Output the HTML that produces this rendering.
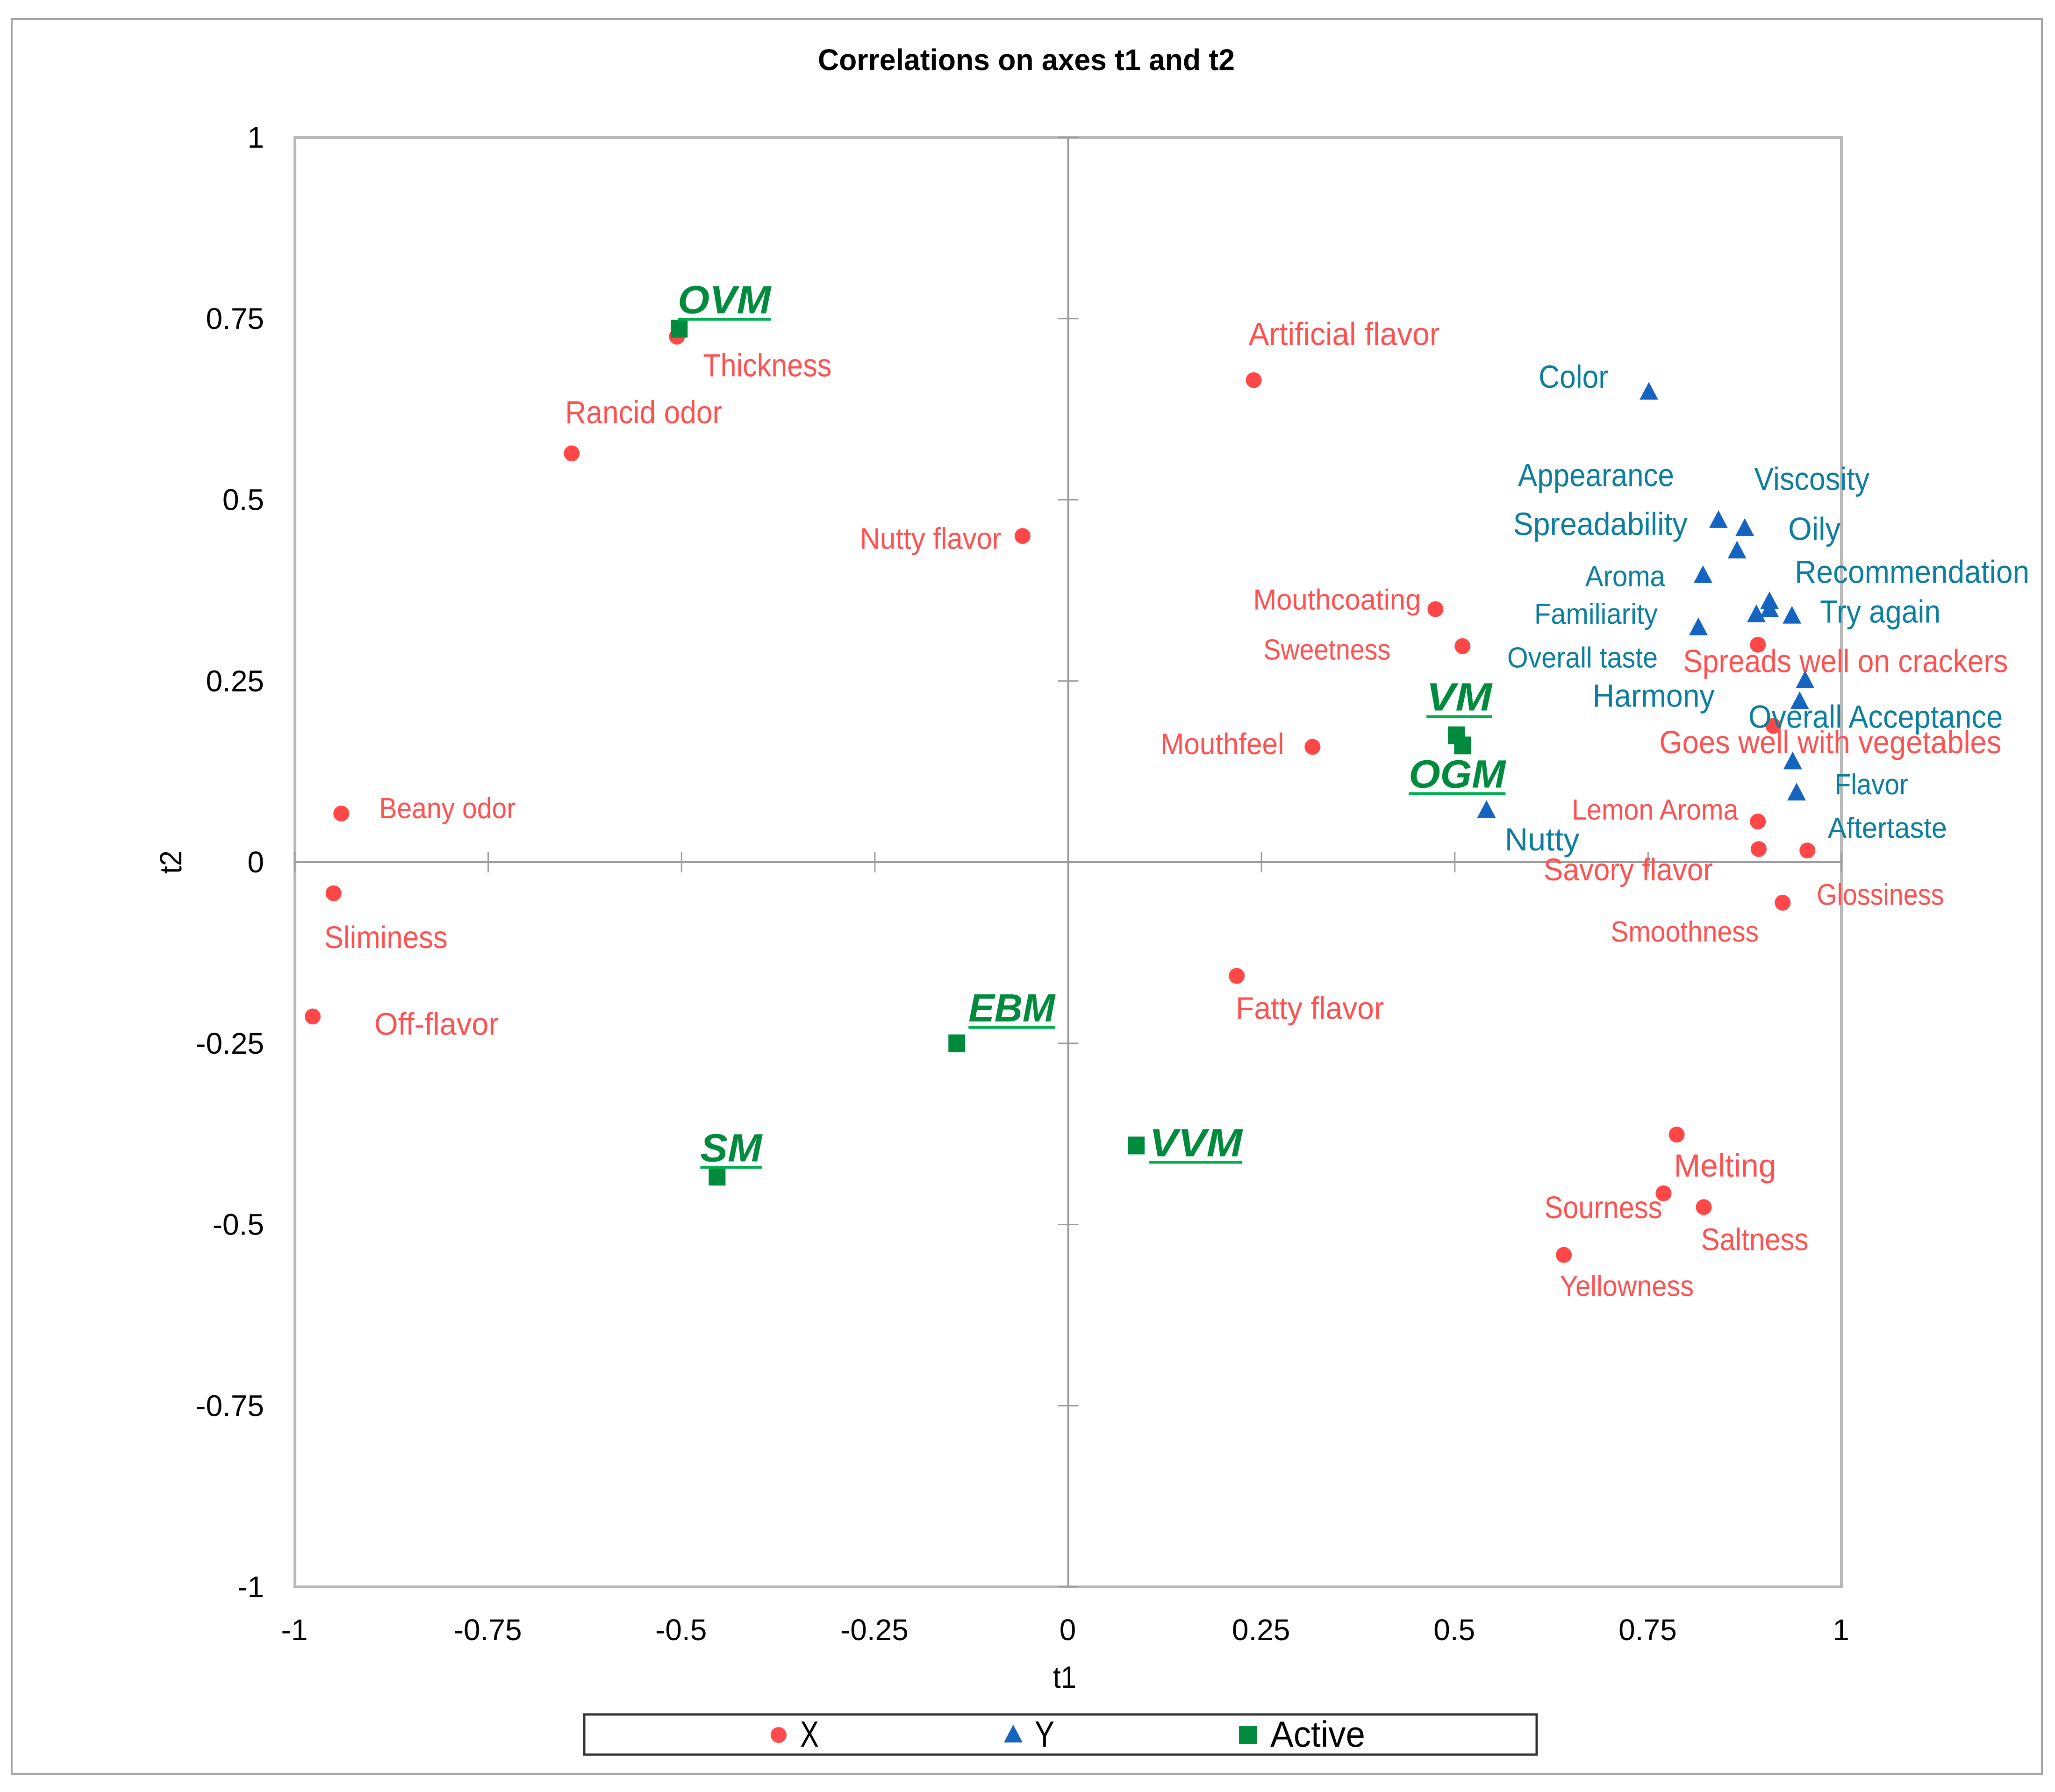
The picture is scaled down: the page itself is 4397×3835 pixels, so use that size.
<!DOCTYPE html>
<html lang="en">
<head>
<meta charset="utf-8">
<title>Correlations on axes t1 and t2</title>
<style>
  html, body { margin: 0; padding: 0; background: #fff; }
  svg { display: block; font-family: "Liberation Sans", sans-serif; }
</style>
</head>
<body>
<svg id="chart" xmlns="http://www.w3.org/2000/svg" width="4397" height="3835" viewBox="0 0 4397 3835">
  <rect x="0" y="0" width="4397" height="3835" fill="#ffffff"/>
  <rect x="25" y="41" width="4344" height="3755" fill="none" stroke="#a3a3a3" stroke-width="4"/>
  <text x="2196" y="150" text-anchor="middle" font-size="64" font-weight="bold" fill="#000" textLength="892" lengthAdjust="spacingAndGlyphs">Correlations on axes t1 and t2</text>
  <rect x="631" y="294" width="3309" height="3102" fill="none" stroke="#b8b8b8" stroke-width="6"/>
  <g id="axes"></g>
  <g id="marks"></g>
  <text x="2278" y="3612" text-anchor="middle" font-size="66" fill="#000" textLength="50" lengthAdjust="spacingAndGlyphs">t1</text>
  <text x="0" y="0" transform="translate(388 1845) rotate(-90)" text-anchor="middle" font-size="66" fill="#000" textLength="50" lengthAdjust="spacingAndGlyphs">t2</text>
  <g>
    <rect x="1250" y="3669" width="2038" height="86" fill="none" stroke="#333333" stroke-width="5"/>
    <circle cx="1666" cy="3713" r="17" fill="#ff4b4b"/>
    <text x="1712" y="3738" font-size="78" fill="#000" textLength="40" lengthAdjust="spacingAndGlyphs">X</text>
    <polygon points="2168,3691 2188,3729 2148,3729" fill="#1565c0"/>
    <text x="2214" y="3738" font-size="78" fill="#000" textLength="42" lengthAdjust="spacingAndGlyphs">Y</text>
    <rect x="2651" y="3694" width="38" height="38" fill="#008a3e"/>
    <text x="2718" y="3738" font-size="78" fill="#000" textLength="203" lengthAdjust="spacingAndGlyphs">Active</text>
  </g>
</svg>
<script>
// Chart data: correlations
const xTicks = [-1, -0.75, -0.5, -0.25, 0, 0.25, 0.5, 0.75, 1];
const yTicks = [-1, -0.75, -0.5, -0.25, 0, 0.25, 0.5, 0.75, 1];

const xSeriesNames = ["Thickness", "Rancid odor", "Artificial flavor", "Nutty flavor", "Mouthcoating", "Sweetness", "Spreads well on crackers", "Goes well with vegetables", "Mouthfeel", "Beany odor", "Lemon Aroma", "Savory flavor", "Smoothness", "Glossiness", "Sliminess", "Off-flavor", "Fatty flavor", "Melting", "Sourness", "Saltness", "Yellowness"];
const xSeriesT1 = [-0.506, -0.642, 0.240, -0.059, 0.475, 0.510, 0.892, 0.912, 0.316, -0.940, 0.892, 0.893, 0.956, 0.924, -0.950, -0.977, 0.218, 0.787, 0.770, 0.822, 0.641];
const xSeriesT2 = [0.725, 0.564, 0.665, 0.450, 0.349, 0.298, 0.300, 0.188, 0.159, 0.067, 0.056, 0.018, 0.016, -0.056, -0.043, -0.213, -0.157, -0.376, -0.457, -0.476, -0.542];

const ySeriesNames = ["Color", "Appearance", "Viscosity", "Spreadability", "Aroma", "Oily", "Recommendation", "Try again", "Overall taste", "Familiarity", "Overall Acceptance", "Harmony", "Flavor", "Aftertaste", "Nutty"];
const ySeriesT1 = [0.751, 0.841, 0.875, 0.865, 0.821, 0.907, 0.907, 0.936, 0.890, 0.815, 0.953, 0.946, 0.937, 0.942, 0.541];
const ySeriesT2 = [0.649, 0.472, 0.461, 0.430, 0.396, 0.360, 0.349, 0.340, 0.342, 0.324, 0.251, 0.222, 0.139, 0.096, 0.072];

const activeNames = ["OVM", "VM", "OGM", "EBM", "SM", "VVM"];
const activeT1 = [-0.503, 0.502, 0.510, -0.144, -0.454, 0.088];
const activeT2 = [0.736, 0.175, 0.161, -0.250, -0.434, -0.391];

// Label layout, separate from the data: [dx, dy, width, font size], relative to each mark
const labelLayout = {
  "Thickness": [56, 62, 275, 64], "Rancid odor": [-14, -87, 336, 64], "Artificial flavor": [-11, -98, 409, 64],
  "Nutty flavor": [-348, 6, 303, 60], "Mouthcoating": [-390, -20, 359, 58], "Sweetness": [-426, 8, 272, 58],
  "Spreads well on crackers": [-160, 36, 695, 64], "Goes well with vegetables": [-244, 36, 732, 64],
  "Mouthfeel": [-325, -6, 264, 60], "Beany odor": [81, -11, 292, 58], "Lemon Aroma": [-398, -25, 356, 58],
  "Savory flavor": [-460, 45, 362, 62], "Smoothness": [-421, 174, 317, 58], "Glossiness": [73, -17, 272, 60],
  "Sliminess": [-20, 95, 264, 62], "Off-flavor": [132, 17, 266, 62], "Fatty flavor": [-2, 70, 317, 62],
  "Melting": [-6, 67, 219, 64], "Sourness": [-255, 31, 252, 62], "Saltness": [-6, 70, 230, 62], "Yellowness": [-8, 67, 286, 58],
  "Color": [-236, -31, 149, 64], "Appearance": [-429, -95, 334, 64], "Viscosity": [20, -104, 247, 64],
  "Spreadability": [-479, -56, 373, 64], "Aroma": [-252, 3, 171, 58], "Oily": [40, -154, 112, 64],
  "Recommendation": [54, -79, 502, 64], "Try again": [60, -8, 258, 64], "Overall taste": [-533, 93, 322, 58],
  "Familiarity": [-351, -28, 264, 58], "Overall Acceptance": [-121, 79, 544, 64], "Harmony": [-443, -11, 261, 64],
  "Flavor": [90, 50, 157, 58], "Aftertaste": [67, 76, 255, 58], "Nutty": [39, 64, 160, 64],
  "OVM": [-3, -59, 199, 74], "VM": [-64, -79, 140, 74], "OGM": [-115, 64, 207, 74],
  "EBM": [25, -73, 185, 74], "SM": [-36, -59, 132, 74], "VVM": [28, -3, 199, 74]
};

const SVG_NS = "http://www.w3.org/2000/svg";
const axesGroup = document.getElementById("axes");
const marksGroup = document.getElementById("marks");

function sx(v) { return 2285.5 + v * 1654.5; }
function sy(v) { return 1845 - v * 1551; }
function slug(s) { return s.toLowerCase().replace(/[^a-z0-9]+/g, "-"); }

function make(tag, parent, attrs, text) {
  const el = document.createElementNS(SVG_NS, tag);
  Object.keys(attrs).forEach(function (k) { el.setAttribute(k, attrs[k]); });
  if (text !== undefined) el.textContent = text;
  parent.appendChild(el);
  return el;
}

function drawAxes() {
  const xAxis = make("line", axesGroup, { x1: sx(-1), x2: sx(1), y1: sy(0), y2: sy(0), stroke: "#9c9c9c", "stroke-width": 4 });
  
  
  const yAxis = make("line", axesGroup, { x1: sx(0), x2: sx(0), y1: sy(1), y2: sy(-1), stroke: "#9c9c9c", "stroke-width": 4 });
  
  

  xTicks.forEach(function (t) {
    const tick = make("line", axesGroup, { x1: sx(t), x2: sx(t), y1: sy(0) - 22, y2: sy(0) + 22, stroke: "#9c9c9c", "stroke-width": 3 });
    
    
    const label = make("text", axesGroup, { x: sx(t) - 1, y: 3510, "text-anchor": "middle", "font-size": 64, fill: "#000" }, String(t));
    
    
  });

  yTicks.forEach(function (t) {
    const tick = make("line", axesGroup, { x1: sx(0) - 22, x2: sx(0) + 22, y1: sy(t), y2: sy(t), stroke: "#9c9c9c", "stroke-width": 3 });
    
    
    const label = make("text", axesGroup, { x: 565, y: sy(t) + 22, "text-anchor": "end", "font-size": 64, fill: "#000" }, String(t));
    
    
  });
}

function drawLabel(name, px, py, color, active) {
  const layout = labelLayout[name];
  const fontSize = layout[3];
  const baseline = py + layout[1] + fontSize * 0.34 + 1;
  const attrs = {
    x: px + layout[0], y: baseline, "font-size": active ? fontSize * 1.14 : fontSize * 1.07, fill: color,
    textLength: layout[2], lengthAdjust: "spacingAndGlyphs"
  };
  if (active) { attrs["font-weight"] = "bold"; attrs["font-style"] = "italic"; }
  const label = make("text", marksGroup, attrs, name);
  
  
  if (active) {
    const rule = make("rect", marksGroup, { x: px + layout[0], y: py + layout[1] + 36, width: layout[2], height: 6, fill: "#00b050" });
    
    
  }
}

function drawXSeries() {
  xSeriesNames.forEach(function (name, i) {
    const px = sx(xSeriesT1[i]), py = sy(xSeriesT2[i]);
    const dot = make("circle", marksGroup, { cx: px, cy: py, r: 17, fill: "#ff4747" });
    
    
    drawLabel(name, px, py, "#ff5050", false);
  });
}

function drawYSeries() {
  ySeriesNames.forEach(function (name, i) {
    const px = sx(ySeriesT1[i]), py = sy(ySeriesT2[i]);
    const pts = px + "," + (py - 21) + " " + (px + 20) + "," + (py + 17) + " " + (px - 20) + "," + (py + 17);
    const tri = make("polygon", marksGroup, { points: pts, fill: "#1565c0" });
    
    
    drawLabel(name, px, py, "#0b7d9e", false);
  });
}

function drawActiveSeries() {
  activeNames.forEach(function (name, i) {
    const px = sx(activeT1[i]), py = sy(activeT2[i]);
    const sq = make("rect", marksGroup, { x: px - 18, y: py - 19, width: 36, height: 38, fill: "#008a3e" });
    
    
    drawLabel(name, px, py, "#008a3e", true);
  });
}

drawAxes();
drawXSeries();
drawYSeries();
drawActiveSeries();
</script>
</body>
</html>
